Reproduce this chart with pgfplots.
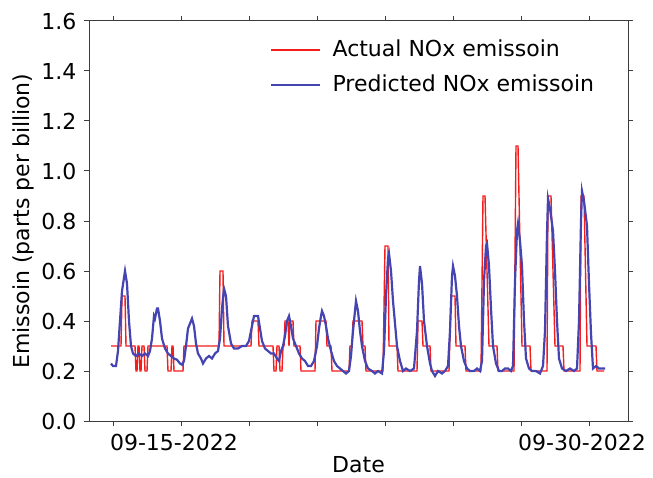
\documentclass[border=0pt]{standalone}
\usepackage{pgfplots}
\pgfplotsset{compat=1.18}
\usepackage{fontspec}
\setmainfont{DejaVu Sans}
\definecolor{actred}{RGB}{245,28,28}
\definecolor{predblue}{RGB}{68,68,178}
\definecolor{axgray}{RGB}{60,60,60}
\begin{document}
\fontsize{11}{13.2}\selectfont
\begin{tikzpicture}
\path[use as bounding box] (-44.5pt,-28pt) rectangle (282pt,210.5pt);
\begin{axis}[
  at={(0,0)}, anchor=south west,
  scale only axis, width=269.5pt, height=200pt,
  xmin=89, xmax=628, ymin=0, ymax=1.6,
  xtick={113,181,249,317,385,453,521,589},
  xticklabels={,09-15-2022,,,,,,09-30-2022},
  xticklabel style={xshift=-3.5pt},
  ytick={0,0.2,0.4,0.6,0.8,1.0,1.2,1.4,1.6},
  yticklabel style={/pgf/number format/.cd,fixed,fixed zerofill,precision=1},
  /pgf/number format/assume math mode=true,
  tick label style={font=\fontsize{11}{13.2}\selectfont},
  label style={font=\fontsize{11}{13.2}\selectfont},
  tick align=outside, major tick length=2.5pt,
  tick style={axgray, line width=0.5pt},
  axis line style={axgray, line width=0.5pt},
  xlabel={Date},
  ylabel={Emissoin (parts per billion)},
  x label style={at={(axis description cs:0.5,-0.108)}, anchor=center},
  y label style={at={(axis description cs:-0.1215,0.5)}, anchor=center},
  legend cell align=left,
  legend image code/.code={\draw[#1] (0pt,0pt) -- (24.5pt,0pt);},
  legend style={draw=none, fill=none, inner sep=0pt, row sep=3.5pt, column sep=3.5pt,
    font=\fontsize{11}{13.2}\selectfont,
    at={(axis description cs:0.3358,0.884)}, anchor=west},
]
\addplot[actred, line width=0.7pt] coordinates {
(111,0.3)(121,0.3)(122,0.5)(125,0.5)(126,0.3)
(135,0.3)(136,0.2)(137,0.2)(138,0.3)(139,0.3)(140,0.2)(141,0.2)(142,0.3)(144,0.3)(145,0.2)(147,0.2)(148,0.3)
(167,0.3)(168,0.2)(171,0.2)(172,0.3)(173,0.3)(174,0.2)(183,0.2)(184,0.3)
(219,0.3)(220,0.6)(223,0.6)(224,0.3)
(251,0.3)(252,0.4)(258,0.4)(259,0.3)
(273,0.3)(274,0.2)(276,0.2)(277,0.3)(279,0.3)(280,0.2)(282,0.2)(283,0.3)(284,0.3)
(285,0.4)(288,0.4)(289,0.3)(290,0.4)(293,0.4)(294,0.3)(300,0.3)(301,0.2)
(315,0.2)(316,0.4)(326,0.4)(327,0.3)(331,0.3)(332,0.2)
(349,0.2)(350,0.3)(352,0.3)(353,0.4)(362,0.4)(363,0.3)(365,0.3)(366,0.2)
(383,0.2)(385,0.7)(388,0.7)(389,0.3)(397,0.3)(398,0.2)
(417,0.2)(418,0.4)(422,0.4)(423,0.3)(430,0.3)(431,0.2)
(449,0.2)(451,0.5)(455,0.5)(456,0.3)(465,0.3)(466,0.2)
(481,0.2)(483,0.9)(485,0.9)(489,0.3)(497,0.3)(498,0.2)
(514,0.2)(516,1.1)(518,1.1)(522,0.3)(530,0.3)(531,0.2)
(547,0.2)(548,0.9)(551,0.9)(555,0.3)(563,0.3)(564,0.2)
(580,0.2)(581,0.9)(584,0.9)(587,0.3)(596,0.3)(597,0.2)(604,0.2)
};
\addlegendentry{Actual NOx emissoin}
\addplot[predblue, line width=1.1pt] coordinates {
(111,0.23)(113,0.22)(116,0.22)(118,0.28)(120,0.4)(122,0.52)(125,0.6)(127,0.55)(129,0.4)(131,0.3)
(133,0.27)(136,0.26)(139,0.27)(142,0.26)(145,0.27)(148,0.26)(150,0.28)(152,0.33)(154,0.42)(155,0.41)
(157,0.45)(158,0.45)(160,0.4)(162,0.33)(165,0.29)(168,0.27)(171,0.26)(174,0.25)(177,0.245)(180,0.23)
(182,0.225)(184,0.24)(186,0.3)(188,0.37)(190,0.39)(192,0.41)(194,0.38)(196,0.31)(198,0.27)(201,0.25)
(203,0.23)(206,0.25)(209,0.26)(212,0.25)(215,0.27)(218,0.28)(220,0.33)(222,0.45)(224,0.53)(226,0.5)
(228,0.38)(231,0.31)(234,0.29)(238,0.29)(242,0.3)(246,0.3)(249,0.32)(252,0.38)(254,0.42)(256,0.42)
(258,0.42)(260,0.37)(262,0.32)(265,0.29)(268,0.28)(271,0.27)(274,0.27)(277,0.25)(279,0.24)(281,0.28)
(283,0.3)(285,0.34)(287,0.4)(289,0.42)(291,0.38)(293,0.33)(296,0.3)(299,0.27)(302,0.25)(305,0.24)
(308,0.22)(311,0.22)(314,0.24)(317,0.3)(319,0.37)(321,0.42)(322,0.44)(324,0.42)(326,0.38)(328,0.33)
(331,0.28)(334,0.24)(337,0.22)(340,0.21)(343,0.2)(346,0.19)(349,0.2)(351,0.26)(353,0.36)(356,0.48)
(358,0.44)(360,0.36)(362,0.3)(365,0.24)(368,0.21)(372,0.2)(375,0.19)(378,0.2)(382,0.19)(384,0.28)
(386,0.5)(388,0.65)(389,0.67)(391,0.6)(393,0.48)(395,0.39)(397,0.3)(400,0.24)(403,0.2)(406,0.21)
(410,0.2)(414,0.21)(417,0.36)(419,0.56)(420,0.62)(422,0.55)(424,0.4)(427,0.3)(430,0.23)(432,0.2)
(435,0.18)(438,0.2)(442,0.19)(445,0.2)(448,0.22)(450,0.36)(452,0.58)(453,0.62)(455,0.58)(457,0.5)
(459,0.38)(461,0.3)(464,0.24)(467,0.21)(470,0.2)(474,0.2)(477,0.21)(480,0.2)(482,0.24)(484,0.56)
(486,0.7)(487,0.71)(489,0.62)(491,0.45)(493,0.3)(496,0.23)(499,0.2)(502,0.2)(505,0.21)(508,0.21)
(511,0.2)(513,0.22)(515,0.56)(517,0.76)(518,0.79)(520,0.72)(522,0.62)(524,0.4)(526,0.25)(529,0.21)
(532,0.2)(536,0.2)(540,0.19)(543,0.22)(545,0.36)(547,0.75)(548,0.89)(550,0.85)(553,0.76)(555,0.6)
(557,0.4)(559,0.25)(562,0.21)(566,0.2)(570,0.21)(574,0.2)(577,0.21)(579,0.4)(581,0.8)(582,0.92)
(584,0.88)(587,0.78)(589,0.55)(591,0.35)(593,0.21)(596,0.22)(599,0.21)(602,0.21)(605,0.21)
};
\addlegendentry{Predicted NOx emissoin}
\end{axis}
\end{tikzpicture}
\end{document}
